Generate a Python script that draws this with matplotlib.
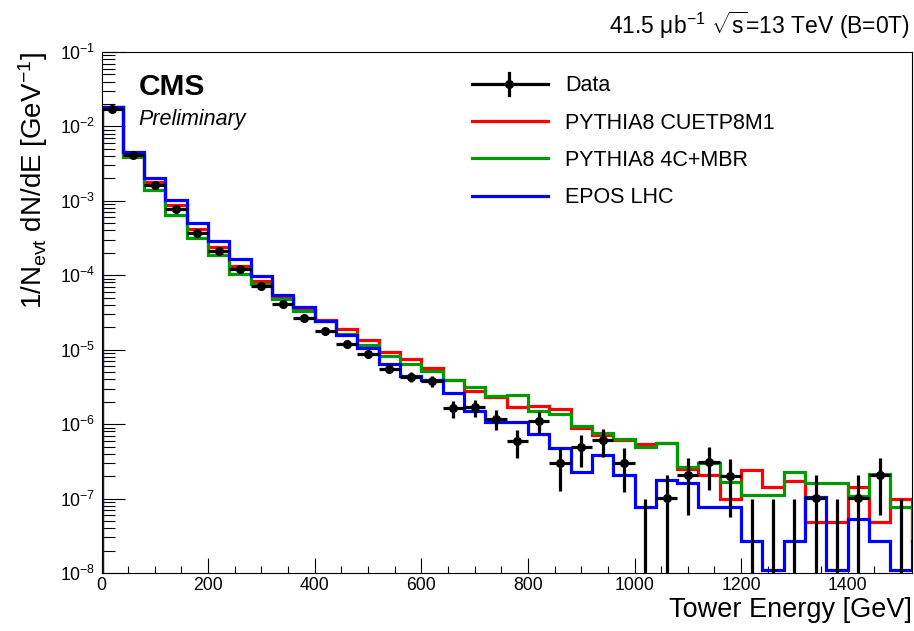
import numpy as np
import matplotlib
matplotlib.use("Agg")
import matplotlib.pyplot as plt
from matplotlib.lines import Line2D
from matplotlib.ticker import MultipleLocator, LogLocator, NullFormatter

plt.rcParams['font.family'] = ['Liberation Sans', 'DejaVu Sans']
plt.rcParams['mathtext.fontset'] = 'custom'
plt.rcParams['mathtext.rm'] = 'Liberation Sans'
plt.rcParams['mathtext.it'] = 'Liberation Sans:italic'
plt.rcParams['mathtext.bf'] = 'Liberation Sans:bold'

# bin edges of the tower energy histogram [GeV]
edges = np.arange(0, 1561, 40)

data = [1.73e-2, 4.17e-3, 1.61e-3, 7.7e-4, 3.74e-4, 2.12e-4, 1.2e-4, 7.2e-5,
        4.17e-5, 2.67e-5, 1.79e-5, 1.21e-5, 8.7e-6, 5.58e-6, 4.3e-6, 3.75e-6,
        1.63e-6, 1.68e-6, 1.18e-6, 5.97e-7, 1.1e-6, 3.03e-7, 4.9e-7, 6.1e-7,
        3.0e-7, 0, 1.03e-7, 2.06e-7, 3.1e-7, 2.0e-7, 0, 0, 0, 1.03e-7, 0,
        1.03e-7, 2.06e-7, 0]
data_err = [4.2e-5, 2.1e-5, 1.3e-5, 8.9e-6, 6.2e-6, 4.7e-6, 3.5e-6, 2.7e-6,
            2.1e-6, 1.66e-6, 1.36e-6, 1.12e-6, 9.5e-7, 7.6e-7, 6.7e-7, 6.2e-7,
            4.1e-7, 4.2e-7, 3.5e-7, 2.5e-7, 3.4e-7, 1.77e-7, 2.25e-7, 2.5e-7,
            1.76e-7, 1.0e-7, 1.03e-7, 1.46e-7, 1.79e-7, 1.44e-7, 1.0e-7, 1.0e-7,
            1.0e-7, 1.03e-7, 1.0e-7, 1.03e-7, 1.46e-7, 1.0e-7]

pythia_cuetp8m1 = [1.8e-2, 4.2e-3, 1.79e-3, 8.7e-4, 4.24e-4, 2.4e-4, 1.33e-4, 8.4e-5,
                   5.0e-5, 3.4e-5, 2.49e-5, 1.87e-5, 1.34e-5, 9.4e-6, 7.5e-6, 5.7e-6,
                   3.9e-6, 2.77e-6, 2.3e-6, 1.68e-6, 1.74e-6, 1.61e-6, 8.8e-7, 7.1e-7,
                   6.2e-7, 5.4e-7, 5.6e-7, 2.5e-7, 2.06e-7, 1.0e-7, 2.4e-7, 1.44e-7,
                   1.72e-7, 4.9e-8, 4.9e-8, 1.44e-7, 4.9e-8, 1.0e-7, 2.7e-8]
pythia_4c_mbr = [1.8e-2, 3.87e-3, 1.38e-3, 6.4e-4, 3.2e-4, 1.85e-4, 1.05e-4, 7.7e-5,
                 4.87e-5, 3.29e-5, 2.4e-5, 1.65e-5, 1.17e-5, 8.2e-6, 6.5e-6, 5.1e-6,
                 3.95e-6, 3.17e-6, 2.38e-6, 2.45e-6, 1.52e-6, 1.36e-6, 9.4e-7, 7.5e-7,
                 6.3e-7, 4.95e-7, 5.6e-7, 2.65e-7, 2.96e-7, 1.68e-7, 1.1e-7, 1.1e-7,
                 2.3e-7, 1.63e-7, 1.63e-7, 1.08e-7, 2.15e-7, 7.8e-8, 2.7e-8]
epos_lhc = [1.82e-2, 4.52e-3, 2.02e-3, 1.02e-3, 5.04e-4, 2.88e-4, 1.68e-4, 9.9e-5,
            5.5e-5, 3.76e-5, 2.41e-5, 1.6e-5, 1.06e-5, 6.45e-6, 4.4e-6, 3.9e-6,
            2.65e-6, 1.5e-6, 1.08e-6, 1.08e-6, 7.3e-7, 4.8e-7, 2.3e-7, 3.8e-7,
            2.06e-7, 7.6e-8, 1.8e-7, 1.6e-7, 7.6e-8, 7.6e-8, 2.7e-8, 0, 2.7e-8,
            1.05e-7, 0, 5.3e-8, 2.7e-8, 0, 2.7e-8]

labels = ['Data', 'PYTHIA8 CUETP8M1', 'PYTHIA8 4C+MBR', 'EPOS LHC']
colors = ['black', '#ff0000', '#009900', '#0000ff']

W, H = 914, 631


def px(x, y):
    return x / W, 1 - y / H


fig = plt.figure(figsize=(W / 100, H / 100), dpi=100)
ax = fig.add_axes([101.5 / W, 1 - 573 / H, 810.2 / W, 521 / H])

ymin, ymax = 1e-8, 1e-1
# empty MC bins sit on the bottom of the frame, like ROOT draws them
for vals, col in zip([pythia_cuetp8m1, pythia_4c_mbr, epos_lhc], colors[1:]):
    v = np.clip(np.array(vals), ymin * 1.09, None)
    ax.stairs(v, edges[:len(v) + 1], baseline=ymin, color=col, lw=2.3, zorder=2)

floor = 1e-12
y = np.array(data)
e = np.array(data_err)
centers = 0.5 * (edges[:len(y)] + edges[1:len(y) + 1])
pos = y > 0
low = np.where(y[pos] - e[pos] > 0, e[pos], y[pos] - floor)
ax.errorbar(centers[pos], y[pos], yerr=[low, e[pos]], xerr=20, fmt='o',
            color='black', ms=5.5, elinewidth=2.3, capsize=0, zorder=4)
ax.vlines(centers[~pos], floor, e[~pos], color='black', lw=2.3, zorder=4)

ax.set_yscale('log')
ax.set_xlim(0, 1520)
ax.set_ylim(ymin, ymax)
ax.xaxis.set_major_locator(MultipleLocator(200))
ax.xaxis.set_minor_locator(MultipleLocator(50))
ax.yaxis.set_major_locator(LogLocator(base=10, numticks=20))
ax.yaxis.set_minor_locator(LogLocator(base=10, subs=np.arange(2, 10), numticks=20))
ax.yaxis.set_minor_formatter(NullFormatter())
ax.tick_params(which='both', direction='in', top=False, right=False, width=0.8,
               labelsize=12.7)
ax.tick_params(axis='x', which='major', length=10.8, pad=3)
ax.tick_params(axis='x', which='minor', length=5)
ax.tick_params(axis='y', which='major', length=16.6, pad=4.5)
ax.tick_params(axis='y', which='minor', length=9.4)
for s in ax.spines.values():
    s.set_linewidth(0.8)

ax.set_xlabel('Tower Energy [GeV]', fontsize=19.5, loc='right')
ax.xaxis.set_label_coords(1.0, -0.047)
ax.set_ylabel(r'1/N$_{\mathrm{evt}}$ dN/dE [GeV$^{-1}$]', fontsize=20, loc='top')
ax.yaxis.set_label_coords(-0.064, 1.0)

fig.text(*px(910, 25), '41.5 μb$^{-1}$ $\\sqrt{\\mathrm{s}}$=13 TeV (B=0T)',
         ha='right', va='center', fontsize=16.5)
fig.text(*px(139, 95), 'CMS', fontweight='bold', fontsize=21.5, va='baseline')
fig.text(*px(138, 125), 'Preliminary', style='italic', fontsize=15.5, va='baseline')

# legend drawn by hand to match the original layout
rows = [83.5, 121, 158, 195.5]
for lab, col, ry in zip(labels, colors, rows):
    fig.add_artist(Line2D([px(471.7, 0)[0], px(548.3, 0)[0]], [px(0, ry)[1]] * 2,
                          color=col, lw=2.3, transform=fig.transFigure))
    fig.text(px(565, 0)[0], px(0, ry + 7.7)[1], lab, fontsize=15.5, va='baseline')
fig.add_artist(Line2D([px(509.3, 0)[0]] * 2, [px(0, 72.7)[1], px(0, 95)[1]],
                      color='black', lw=2.3, transform=fig.transFigure))
fig.add_artist(Line2D([px(509.3, 0)[0]], [px(0, 83.5)[1]], marker='o', ms=5.5,
                      color='black', transform=fig.transFigure))

fig.savefig('out.png', dpi=100)
